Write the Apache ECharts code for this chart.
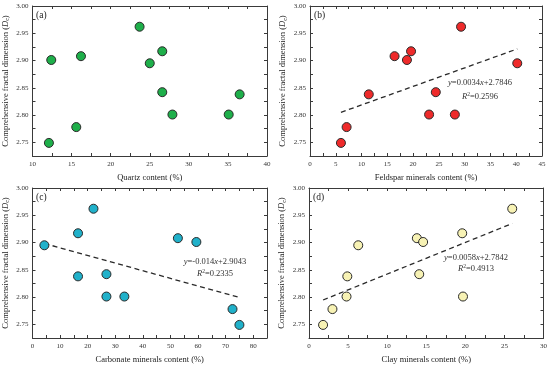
<!DOCTYPE html>
<html>
<head>
<meta charset="utf-8">
<script src="https://cdn.jsdelivr.net/npm/echarts@6/dist/echarts.min.js"></script>
<style>html,body{margin:0;padding:0;background:#fff;}#c{width:550px;height:367px;}</style>
</head>
<body>
<div id="c"></div>
<script>
// ---- data ----
const dcValues = [2.962, 2.901, 2.908, 2.917, 2.895, 2.842, 2.801, 2.801, 2.838, 2.778, 2.749];
const quartz    = [23.7, 12.4, 16.2, 26.6, 25.0, 26.6, 27.9, 35.1, 36.5, 15.6, 12.1];
const dcB       = [2.962, 2.908, 2.917, 2.901, 2.895, 2.838, 2.842, 2.801, 2.801, 2.778, 2.749];
const feldspar  = [29.3, 16.4, 19.6, 18.8, 40.2, 11.4, 24.4, 23.1, 28.1, 7.1, 6.0];
const dcC       = [2.895, 2.917, 2.962, 2.838, 2.842, 2.801, 2.801, 2.908, 2.901, 2.778, 2.749];
const carbonate = [4.3, 16.5, 22.1, 16.5, 26.8, 26.8, 33.3, 52.7, 59.4, 72.5, 75.0];
const dcD       = [2.749, 2.778, 2.801, 2.838, 2.895, 2.908, 2.901, 2.842, 2.917, 2.801, 2.962];
const clay      = [1.8, 3.0, 4.8, 4.9, 6.3, 13.8, 14.6, 14.1, 19.6, 19.7, 26.0];

const fitB = [0.0034, 2.7846];
const fitC = [-0.0014, 2.9043];
const fitD = [0.0058, 2.7842];
const eqB = ['0.0034', '2.7846', '0.2596'];
const eqC = ['-0.014', '2.9043', '0.2335'];
const eqD = ['0.0058', '2.7842', '0.4913'];

const xNames = ['Quartz content (%)', 'Feldspar minerals content (%)', 'Carbonate minerals content (%)', 'Clay minerals content (%)'];
const panelTags = ['(a)', '(b)', '(c)', '(d)'];
const xRanges = [[10, 40, 2.5, 5], [0, 45, 2.5, 5], [0, 85, 5, 10], [0, 30, 2.5, 5]];
const yRange = [2.725, 3.0, 0.025];

// ---- layout ----
const font = 'Liberation Serif, Times New Roman, serif';
const grids = [
  {left: 32, top: 6, width: 235, height: 150},
  {left: 310, top: 6, width: 232, height: 150},
  {left: 32, top: 188, width: 235, height: 150},
  {left: 309, top: 188, width: 238, height: 150}
];
const colors = ['#1eaf4a', '#ee2a2a', '#20b1ca', '#f7f2b4'];
const axisCol = '#3a3a3a';

function isMult(v, m) { return Math.abs(v / m - Math.round(v / m)) < 1e-6; }

const xAxes = [], yAxes = [], series = [];
grids.forEach((g, i) => {
  const xr = xRanges[i];
  xAxes.push({
    gridIndex: i, type: 'value', min: xr[0], max: xr[1], interval: xr[2],
    name: xNames[i], nameLocation: 'middle', nameGap: 17,
    nameTextStyle: {fontFamily: font, fontSize: 8.5, color: '#222'},
    axisLine: {show: true, onZero: false, lineStyle: {color: axisCol, width: 1}},
    axisTick: {show: true, inside: true, length: 3, lineStyle: {color: axisCol}},
    axisLabel: {fontFamily: font, fontSize: 7, color: '#333', margin: 5,
      formatter: v => isMult(v, xr[3]) ? String(Math.round(v)) : ''},
    splitLine: {show: false}
  });
  xAxes.push({
    gridIndex: i, type: 'value', position: 'top', min: xr[0], max: xr[1], interval: xr[2],
    axisLine: {show: true, onZero: false, lineStyle: {color: axisCol, width: 1}},
    axisTick: {show: true, inside: true, length: 3, lineStyle: {color: axisCol}},
    axisLabel: {show: false}, splitLine: {show: false}
  });
  yAxes.push({
    gridIndex: i, type: 'value', min: yRange[0], max: yRange[1], interval: yRange[2],
    name: '{n|Comprehensive fractal dimension (}{i|D}{s|c}{n|)}',
    nameLocation: 'middle', nameGap: 22, nameRotate: 90,
    nameTextStyle: {fontFamily: font, fontSize: 8.5, color: '#222',
      rich: {
        n: {fontFamily: font, fontSize: 8.5, color: '#222'},
        i: {fontFamily: font, fontSize: 8.5, fontStyle: 'italic', color: '#222'},
        s: {fontFamily: font, fontSize: 6, color: '#222', padding: [4, 0, 0, 0]}
      }},
    axisLine: {show: true, onZero: false, lineStyle: {color: axisCol, width: 1}},
    axisTick: {show: true, inside: true, length: 3, lineStyle: {color: axisCol}},
    axisLabel: {fontFamily: font, fontSize: 7, color: '#333', margin: 4,
      formatter: v => isMult(v, 0.05) ? v.toFixed(2) : ''},
    splitLine: {show: false}
  });
  yAxes.push({
    gridIndex: i, type: 'value', position: 'right', min: yRange[0], max: yRange[1], interval: yRange[2],
    axisLine: {show: true, onZero: false, lineStyle: {color: axisCol, width: 1}},
    axisTick: {show: true, inside: true, length: 3, lineStyle: {color: axisCol}},
    axisLabel: {show: false}, splitLine: {show: false}
  });
});

const xs = [quartz, feldspar, carbonate, clay];
const ys = [dcValues, dcB, dcC, dcD];
const fits = [null, fitB, fitC, fitD];

xs.forEach((xv, i) => {
  const f = fits[i];
  if (f) {
    const lo = Math.min(...xv), hi = Math.max(...xv);
    series.push({
      type: 'line', xAxisIndex: i * 2, yAxisIndex: i * 2, symbol: 'none', silent: true,
      data: [[lo, f[0] * lo + f[1]], [hi, f[0] * hi + f[1]]],
      lineStyle: {color: '#2a2a2a', width: 1.3, type: [5, 3.5]}, z: 2
    });
  }
  series.push({
    type: 'scatter', xAxisIndex: i * 2, yAxisIndex: i * 2, symbol: 'circle', symbolSize: 9,
    data: xv.map((x, k) => [x, ys[i][k]]),
    itemStyle: {color: colors[i], borderColor: '#2a2a2a', borderWidth: 1, opacity: 1}, z: 3
  });
});

// ---- text annotations ----
const richEq = {
  n: {fontFamily: font, fontSize: 8.5, fill: '#333'},
  i: {fontFamily: font, fontSize: 8.5, fontStyle: 'italic', fill: '#333'},
  p: {fontFamily: font, fontSize: 5.5, fill: '#333', padding: [0, 0, 5, 0]}
};
function eqText(cx, cy1, cy2, eq) {
  return [
    {type: 'text', x: cx, y: cy1, style: {
      text: '{i|y}{n|=' + eq[0] + '}{i|x}{n|+' + eq[1] + '}', rich: richEq,
      align: 'center', verticalAlign: 'middle', fontFamily: font, fontSize: 8.5}},
    {type: 'text', x: cx, y: cy2, style: {
      text: '{i|R}{p|2}{n|=' + eq[2] + '}', rich: richEq,
      align: 'center', verticalAlign: 'middle', fontFamily: font, fontSize: 8.5}}
  ];
}
const graphic = [];
grids.forEach((g, i) => {
  graphic.push({type: 'text', x: g.left + 4, y: g.top + 9, style: {
    text: panelTags[i], fontFamily: font, fontSize: 9.5, fill: '#222', verticalAlign: 'middle'}});
});
graphic.push(...eqText(480, 83, 97, eqB));
graphic.push(...eqText(215, 262, 274, eqC));
graphic.push(...eqText(476, 258, 269, eqD));

const chart = echarts.init(document.getElementById('c'), null, {renderer: 'canvas'});
chart.setOption({
  animation: false,
  backgroundColor: '#fff',
  grid: grids,
  xAxis: xAxes,
  yAxis: yAxes,
  series: series,
  graphic: graphic
});
</script>
</body>
</html>
